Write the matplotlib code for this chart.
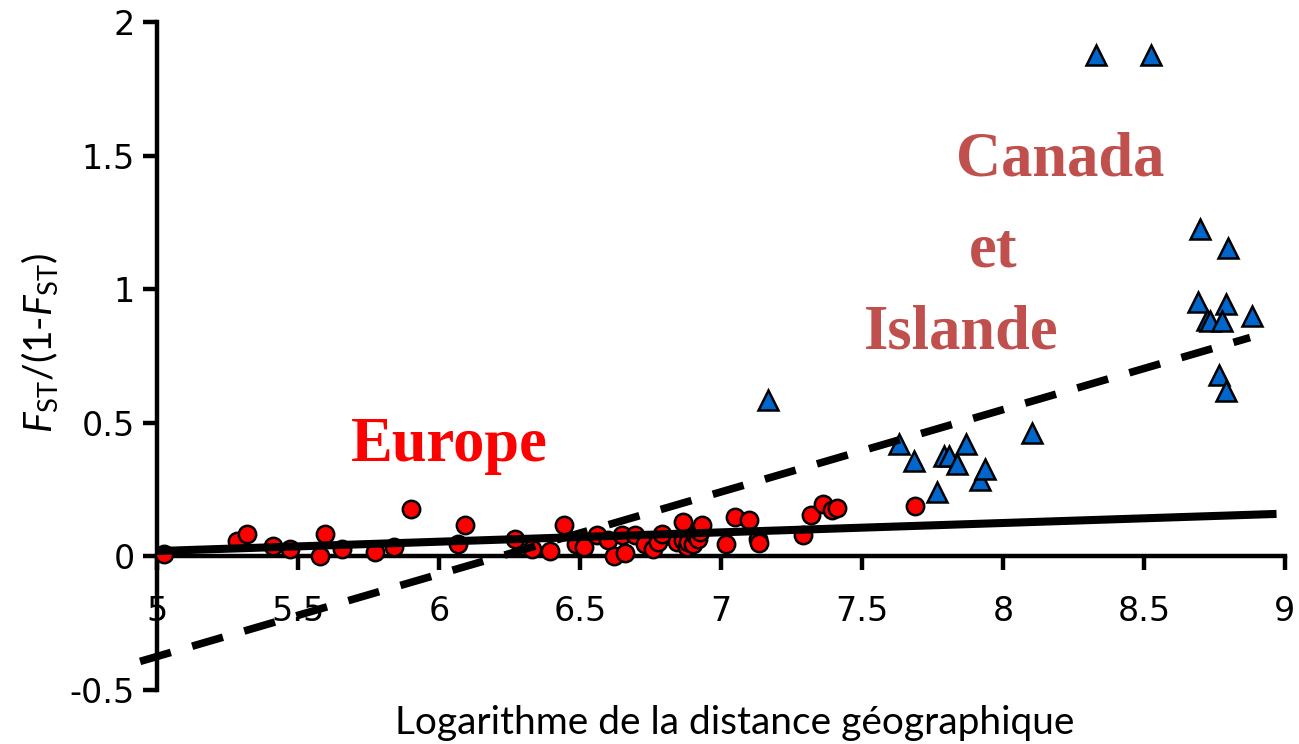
import matplotlib
matplotlib.use("Agg")
import matplotlib.pyplot as plt

# Europe populations (log distance, Fst/(1-Fst))
europe_x = [5.025, 5.285, 5.32, 5.41, 5.47, 5.578, 5.597, 5.655, 5.773, 5.84,
            5.90, 6.068, 6.092, 6.27, 6.329, 6.394, 6.443, 6.486, 6.514, 6.559,
            6.60, 6.62, 6.648, 6.66, 6.695, 6.73, 6.76, 6.777, 6.79, 6.843,
            6.864, 6.866, 6.878, 6.884, 6.90, 6.908, 6.92, 6.926, 6.931, 7.018,
            7.05, 7.10, 7.13, 7.136, 7.292, 7.319, 7.36, 7.392, 7.41, 7.688]
europe_y = [0.010, 0.057, 0.085, 0.039, 0.029, 0.000, 0.082, 0.029, 0.016, 0.037,
            0.178, 0.045, 0.116, 0.066, 0.029, 0.020, 0.119, 0.047, 0.037, 0.079,
            0.060, 0.000, 0.079, 0.012, 0.079, 0.047, 0.029, 0.054, 0.085, 0.054,
            0.128, 0.060, 0.035, 0.054, 0.047, 0.079, 0.066, 0.091, 0.116, 0.047,
            0.147, 0.135, 0.065, 0.051, 0.079, 0.154, 0.197, 0.172, 0.182, 0.187]

# Canada and Iceland populations
canada_x = [7.167, 7.632, 7.684, 7.767, 7.79, 7.81, 7.836, 7.869, 7.918, 7.936,
            8.104, 8.33, 8.524, 8.70, 8.798, 8.69, 8.79, 8.722, 8.735, 8.775,
            8.884, 8.767, 8.79]
canada_y = [0.584, 0.419, 0.357, 0.241, 0.375, 0.375, 0.347, 0.419, 0.285, 0.328,
            0.463, 1.876, 1.876, 1.227, 1.156, 0.952, 0.944, 0.886, 0.881, 0.881,
            0.899, 0.678, 0.619]

# Trend lines (end points)
trend_europe_x = [5.0, 8.97]
trend_europe_y = [0.02, 0.159]
trend_all_x = [4.94, 8.876]
trend_all_y = [-0.393, 0.819]

x_ticks = [5, 5.5, 6, 6.5, 7, 7.5, 8, 8.5, 9]
x_tick_labels = ["5", "5.5", "6", "6.5", "7", "7.5", "8", "8.5", "9"]
y_ticks = [-0.5, 0, 0.5, 1, 1.5, 2]
y_tick_labels = ["-0.5", "0", "0.5", "1", "1.5", "2"]

plt.rcParams["mathtext.fontset"] = "custom"
plt.rcParams["mathtext.rm"] = "Lato"
plt.rcParams["mathtext.it"] = "Lato:italic"

fig = plt.figure(figsize=(12.99, 7.44), dpi=100)
ax = fig.add_axes([157 / 1299, 54 / 744, 1128 / 1299, 668 / 744])
ax.set_xlim(5, 9)
ax.set_ylim(-0.5, 2)

ax.plot(europe_x, europe_y, linestyle="none", marker="o", markersize=12.5,
        markerfacecolor="#FF0000", markeredgecolor="black", markeredgewidth=1.8,
        zorder=3)
ax.plot(canada_x, canada_y, linestyle="none", marker="^", markersize=14,
        markerfacecolor="#0066CC", markeredgecolor="black", markeredgewidth=1.8,
        zorder=3)

ax.plot(trend_europe_x, trend_europe_y, color="black", linewidth=5.8,
        solid_capstyle="butt", zorder=4)
ax.plot(trend_all_x, trend_all_y, color="black", linewidth=5.5,
        linestyle=(0, (4.2, 2.9)), dash_capstyle="butt",
        zorder=4, clip_on=False)

for side in ("top", "right"):
    ax.spines[side].set_visible(False)
ax.spines["bottom"].set_position(("data", 0))
ax.spines["left"].set_linewidth(3.2)
ax.spines["bottom"].set_linewidth(3.2)

ax.set_xticks(x_ticks)
ax.set_xticklabels(x_tick_labels)
ax.set_yticks(y_ticks)
ax.set_yticklabels(y_tick_labels)
ax.tick_params(axis="both", direction="out", length=10, width=3.2, color="black")
ax.tick_params(axis="x", pad=18, labelsize=24)
ax.tick_params(axis="y", pad=6, labelsize=24)
for lab in ax.get_xticklabels() + ax.get_yticklabels():
    lab.set_fontfamily("DejaVu Sans")

ax.set_xlabel("Logarithme de la distance géographique", fontsize=28,
              fontfamily="Lato", va="center")
ax.xaxis.set_label_coords(0.512, -0.049)
ax.set_ylabel(r"$\mathit{F}_{\mathrm{ST}}$/(1-$\mathit{F}_{\mathrm{ST}}$)",
              fontsize=28, fontfamily="Lato", va="center")
ax.yaxis.set_label_coords(-0.104, 0.52)

serif_bold = dict(fontfamily="Liberation Serif", fontweight="bold", fontsize=45,
                  ha="center", va="baseline")
ax.text(6.035, 0.356, "Europe", color="#FF0000", **serif_bold)
ax.text(8.202, 1.427, "Canada", color="#C0504D", **serif_bold)
ax.text(7.965, 1.085, "et", color="#C0504D", **serif_bold)
ax.text(7.851, 0.779, "Islande", color="#C0504D", **serif_bold)

fig.savefig("out.png", dpi=100)
